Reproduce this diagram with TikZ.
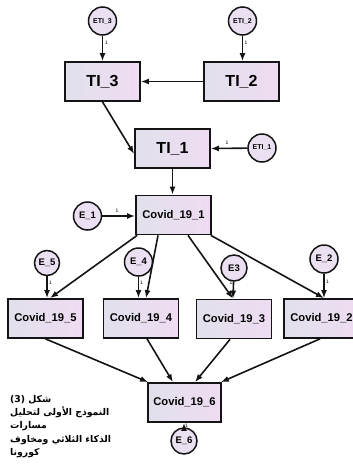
\documentclass[tikz,border=0pt]{standalone}
\usepackage{fontspec}
\setmainfont{Liberation Sans}
\newfontfamily\arabicfont[Script=Arabic]{DejaVu Sans}
\TeXXeTstate=1
\usetikzlibrary{arrows.meta,calc,shapes.geometric}
\definecolor{boxL}{RGB}{226,224,236}
\definecolor{boxR}{RGB}{238,220,242}
\definecolor{circfill}{RGB}{234,224,242}
\definecolor{ink}{RGB}{20,20,20}
\begin{document}
\begin{tikzpicture}[x=1pt,y=-1pt,
  obsbox/.style={draw=ink,line width=1.7pt,rectangle,left color=boxL,right color=boxR,
     minimum width=75pt,minimum height=39pt,inner sep=0pt,font=\bfseries},
  errc/.style={draw=ink,line width=1.5pt,circle,fill=circfill,minimum size=28pt,inner sep=0pt,font=\bfseries\fontsize{9.5}{9.5}\selectfont},
  link/.style={draw=ink,line width=1.6pt,-{Latex[length=8pt,width=6pt]}},
  one/.style={font=\fontsize{5}{5}\selectfont,inner sep=0pt}]
\useasboundingbox (0,0) rectangle (353,472);
\begin{scope}
\clip (0,0) rectangle (353,472);
% boxes
\node[obsbox,font=\bfseries\fontsize{16}{16}\selectfont] (TI3) at (102.5,81.5) {TI\_3};
\node[obsbox,font=\bfseries\fontsize{16}{16}\selectfont] (TI2) at (241.5,81.5) {TI\_2};
\node[obsbox,font=\bfseries\fontsize{16}{16}\selectfont] (TI1) at (172.5,148.5) {TI\_1};
\node[obsbox,font=\bfseries\fontsize{11.2}{11.2}\selectfont] (C1) at (173.5,215) {Covid\_19\_1};
\node[obsbox,font=\bfseries\fontsize{11.2}{11.2}\selectfont] (C5) at (45.5,318.5) {Covid\_19\_5};
\node[obsbox,font=\bfseries\fontsize{11.2}{11.2}\selectfont] (C4) at (141,318.5) {Covid\_19\_4};
\node[obsbox,font=\bfseries\fontsize{11.2}{11.2}\selectfont] (C3) at (234,319) {Covid\_19\_3};
\node[obsbox,font=\bfseries\fontsize{11.2}{11.2}\selectfont] (C2) at (321.5,318.5) {Covid\_19\_2};
\node[obsbox,font=\bfseries\fontsize{11.2}{11.2}\selectfont,minimum width=73pt] (C6) at (184.5,402.5) {Covid\_19\_6};
% error circles
\node[errc,font=\bfseries\fontsize{7}{7}\selectfont] (ETI3) at (102.5,21) {ETI\_3};
\node[errc,font=\bfseries\fontsize{7}{7}\selectfont] (ETI2) at (242.5,21) {ETI\_2};
\node[errc,font=\bfseries\fontsize{7}{7}\selectfont] (ETI1) at (262,148) {ETI\_1};
\node[errc] (E1) at (87.5,216) {E\_1};
\node[errc,minimum size=25pt] (E5) at (47,263) {E\_5};
\node[errc] (E4) at (138.5,262) {E\_4};
\node[errc,minimum size=26pt] (E3) at (234,268) {E3};
\node[errc] (E2) at (324,259) {E\_2};
\node[errc,minimum size=26pt] (E6) at (184,441) {E\_6};
% arrows, top part
\draw[link] (ETI3) -- (ETI3.south |- TI3.north);
\draw[link] (ETI2) -- (ETI2.south |- TI2.north);
\draw[link] (TI2.west) -- (TI3.east);
\draw[link] (TI3.south) -- ([yshift=-5.5pt]TI1.west);
\draw[link] (ETI1) -- (TI1.east);
\draw[link] (TI1.south) -- (TI1.south |- C1.north);
\draw[link] (E1) -- (C1.west |- E1.east);
% arrows to Covid_19_5..2
\draw[link] ([xshift=2pt]C1.south west) -- ([xshift=4.5pt]C5.north);
\draw[link] ([xshift=-15.5pt]C1.south) -- ([xshift=5pt]C4.north);
\draw[link] ([xshift=14.5pt]C1.south) -- ([xshift=-1pt]C3.north);
\draw[link] ([xshift=-1pt]C1.south east) -- ([xshift=2.5pt]C2.north);
\draw[link] (E5) -- (E5.south |- C5.north);
\draw[link] (E4) -- (E4.south |- C4.north);
\draw[link] (E3) -- ([xshift=-1pt]E3.south |- C3.north);
\draw[link] (E2) -- (E2.south |- C2.north);
% arrows to Covid_19_6
\draw[link] (C5.south) -- ([xshift=1pt]C6.north west);
\draw[link] ([xshift=6pt]C4.south) -- ([xshift=-11.5pt]C6.north);
\draw[link] ([xshift=-4pt]C3.south) -- ([xshift=10.5pt]C6.north);
\draw[link] ([xshift=-1.5pt]C2.south) -- ([xshift=-1pt]C6.north east);
\draw[link] (E6) -- (E6.north |- C6.south);
% "1" labels
\node[one] (l1) at (106.5,43) {1};
\node[one] (l2) at (246,43) {1};
\node[one] (l3) at (227,142.5) {1};
\node[one] (l4) at (117,210.5) {1};
\node[one] (l5) at (50.5,283) {1};
\node[one] (l6) at (141.5,283) {1};
\node[one] (l7) at (231,283) {1};
\node[one] (l8) at (327.5,282) {1};
\node[one] (l9) at (186.5,426) {1};
% caption
\node[anchor=north west,align=left,inner sep=0pt,font=\arabicfont\bfseries\fontsize{9.3}{13.3}\selectfont] (cap) at (10,395)
 {\beginR شكل \beginL(3)\endL\endR\\
  \beginR النموذج الأولى لتحليل\endR\\
  \beginR مسارات\endR\\
  \beginR الذكاء الثلاثي ومخاوف\endR\\
  \beginR كورونا\endR};
\end{scope}
\end{tikzpicture}
\end{document}
